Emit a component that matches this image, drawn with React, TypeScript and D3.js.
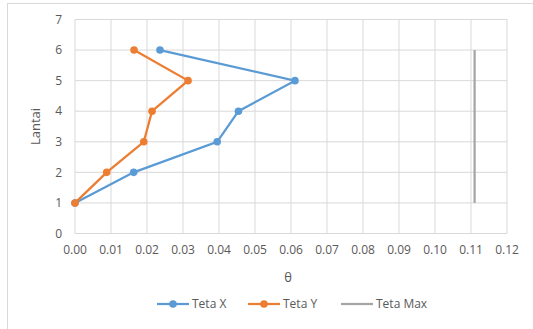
import React from "react";
import * as d3 from "d3";

// Storey levels and rotation values per direction
const storeys = [1, 2, 3, 4, 5, 6];
const tetaX = [0, 0.0163, 0.0395, 0.0454, 0.0611, 0.0236];
const tetaY = [0, 0.0088, 0.0191, 0.0214, 0.0314, 0.0164];
const tetaMaxValue = 0.111;
const tetaMaxStoreys = [1, 6];
const xTicks = [0, 0.01, 0.02, 0.03, 0.04, 0.05, 0.06, 0.07, 0.08, 0.09, 0.1, 0.11, 0.12];
const yTicks = [0, 1, 2, 3, 4, 5, 6, 7];
const seriesNames = ["Teta X", "Teta Y", "Teta Max"];

const W = 533;
const H = 329;
const FONT = "'Open Sans', 'Liberation Sans', sans-serif";
const TEXT = "#595959";
const GRID = "#D9D9D9";
const BLUE = "#5B9BD5";
const ORANGE = "#ED7D31";
const GRAY = "#A5A5A5";

export default function App() {
  const x = d3.scaleLinear().domain([0, 0.12]).range([75, 507]);
  const y = d3.scaleLinear().domain([0, 7]).range([233.5, 19.5]);

  const line = d3
    .line<[number, number]>()
    .x((d) => x(d[0]))
    .y((d) => y(d[1]));

  const ptsX: [number, number][] = tetaX.map((v, i) => [v, storeys[i]]);
  const ptsY: [number, number][] = tetaY.map((v, i) => [v, storeys[i]]);
  const ptsMax: [number, number][] = tetaMaxStoreys.map((s) => [tetaMaxValue, s]);

  const legendItems = [
    { name: seriesNames[0], color: BLUE, marker: true, x0: 157 },
    { name: seriesNames[1], color: ORANGE, marker: true, x0: 248 },
    { name: seriesNames[2], color: GRAY, marker: false, x0: 341 },
  ];

  return (
    <svg
      width={W}
      height={H}
      style={{ position: "absolute", left: 0, top: 0, background: "#fff" }}
      fontFamily={FONT}
    >
      <rect x={7.5} y={3.5} width={W} height={H} fill="#fff" stroke="#D9D9D9" strokeWidth={1} />

      {/* grid */}
      {xTicks.map((t) => (
        <line key={"gx" + t} x1={x(t)} x2={x(t)} y1={y(0)} y2={y(7)} stroke={GRID} strokeWidth={1} />
      ))}
      {yTicks.map((t) => (
        <line key={"gy" + t} x1={x(0)} x2={x(0.12)} y1={y(t)} y2={y(t)} stroke={GRID} strokeWidth={1} />
      ))}

      {/* tick labels */}
      {yTicks.map((t) => (
        <text key={"ly" + t} x={62} y={y(t)} dy="0.35em" textAnchor="end" fontSize={12} fill={TEXT}>
          {t}
        </text>
      ))}
      {xTicks.map((t) => (
        <text key={"lx" + t} x={x(t)} y={250} dy="0.35em" textAnchor="middle" fontSize={12} fill={TEXT}>
          {d3.format(".2f")(t)}
        </text>
      ))}

      {/* axis titles */}
      <text
        transform={`translate(40, ${y(3.5)}) rotate(-90)`}
        textAnchor="middle"
        fontSize={13}
        fill={TEXT}
      >
        Lantai
      </text>
      <text x={288} y={277} dy="0.35em" textAnchor="middle" fontSize={13} fill={TEXT}>
        θ
      </text>

      {/* series */}
      <path d={line(ptsMax) || ""} fill="none" stroke={GRAY} strokeWidth={2.25} />
      <path d={line(ptsX) || ""} fill="none" stroke={BLUE} strokeWidth={2.25} />
      {ptsX.map((p, i) => (
        <circle key={"mx" + i} cx={x(p[0])} cy={y(p[1])} r={3.8} fill={BLUE} />
      ))}
      <path d={line(ptsY) || ""} fill="none" stroke={ORANGE} strokeWidth={2.25} />
      {ptsY.map((p, i) => (
        <circle key={"my" + i} cx={x(p[0])} cy={y(p[1])} r={3.8} fill={ORANGE} />
      ))}

      {/* legend */}
      {legendItems.map((it) => (
        <g key={it.name}>
          <line x1={it.x0} x2={it.x0 + 32} y1={304} y2={304} stroke={it.color} strokeWidth={2.25} />
          {it.marker && <circle cx={it.x0 + 16} cy={304} r={3.8} fill={it.color} />}
          <text x={it.x0 + 35} y={304} dy="0.35em" fontSize={12} fill={TEXT}>
            {it.name}
          </text>
        </g>
      ))}
    </svg>
  );
}
